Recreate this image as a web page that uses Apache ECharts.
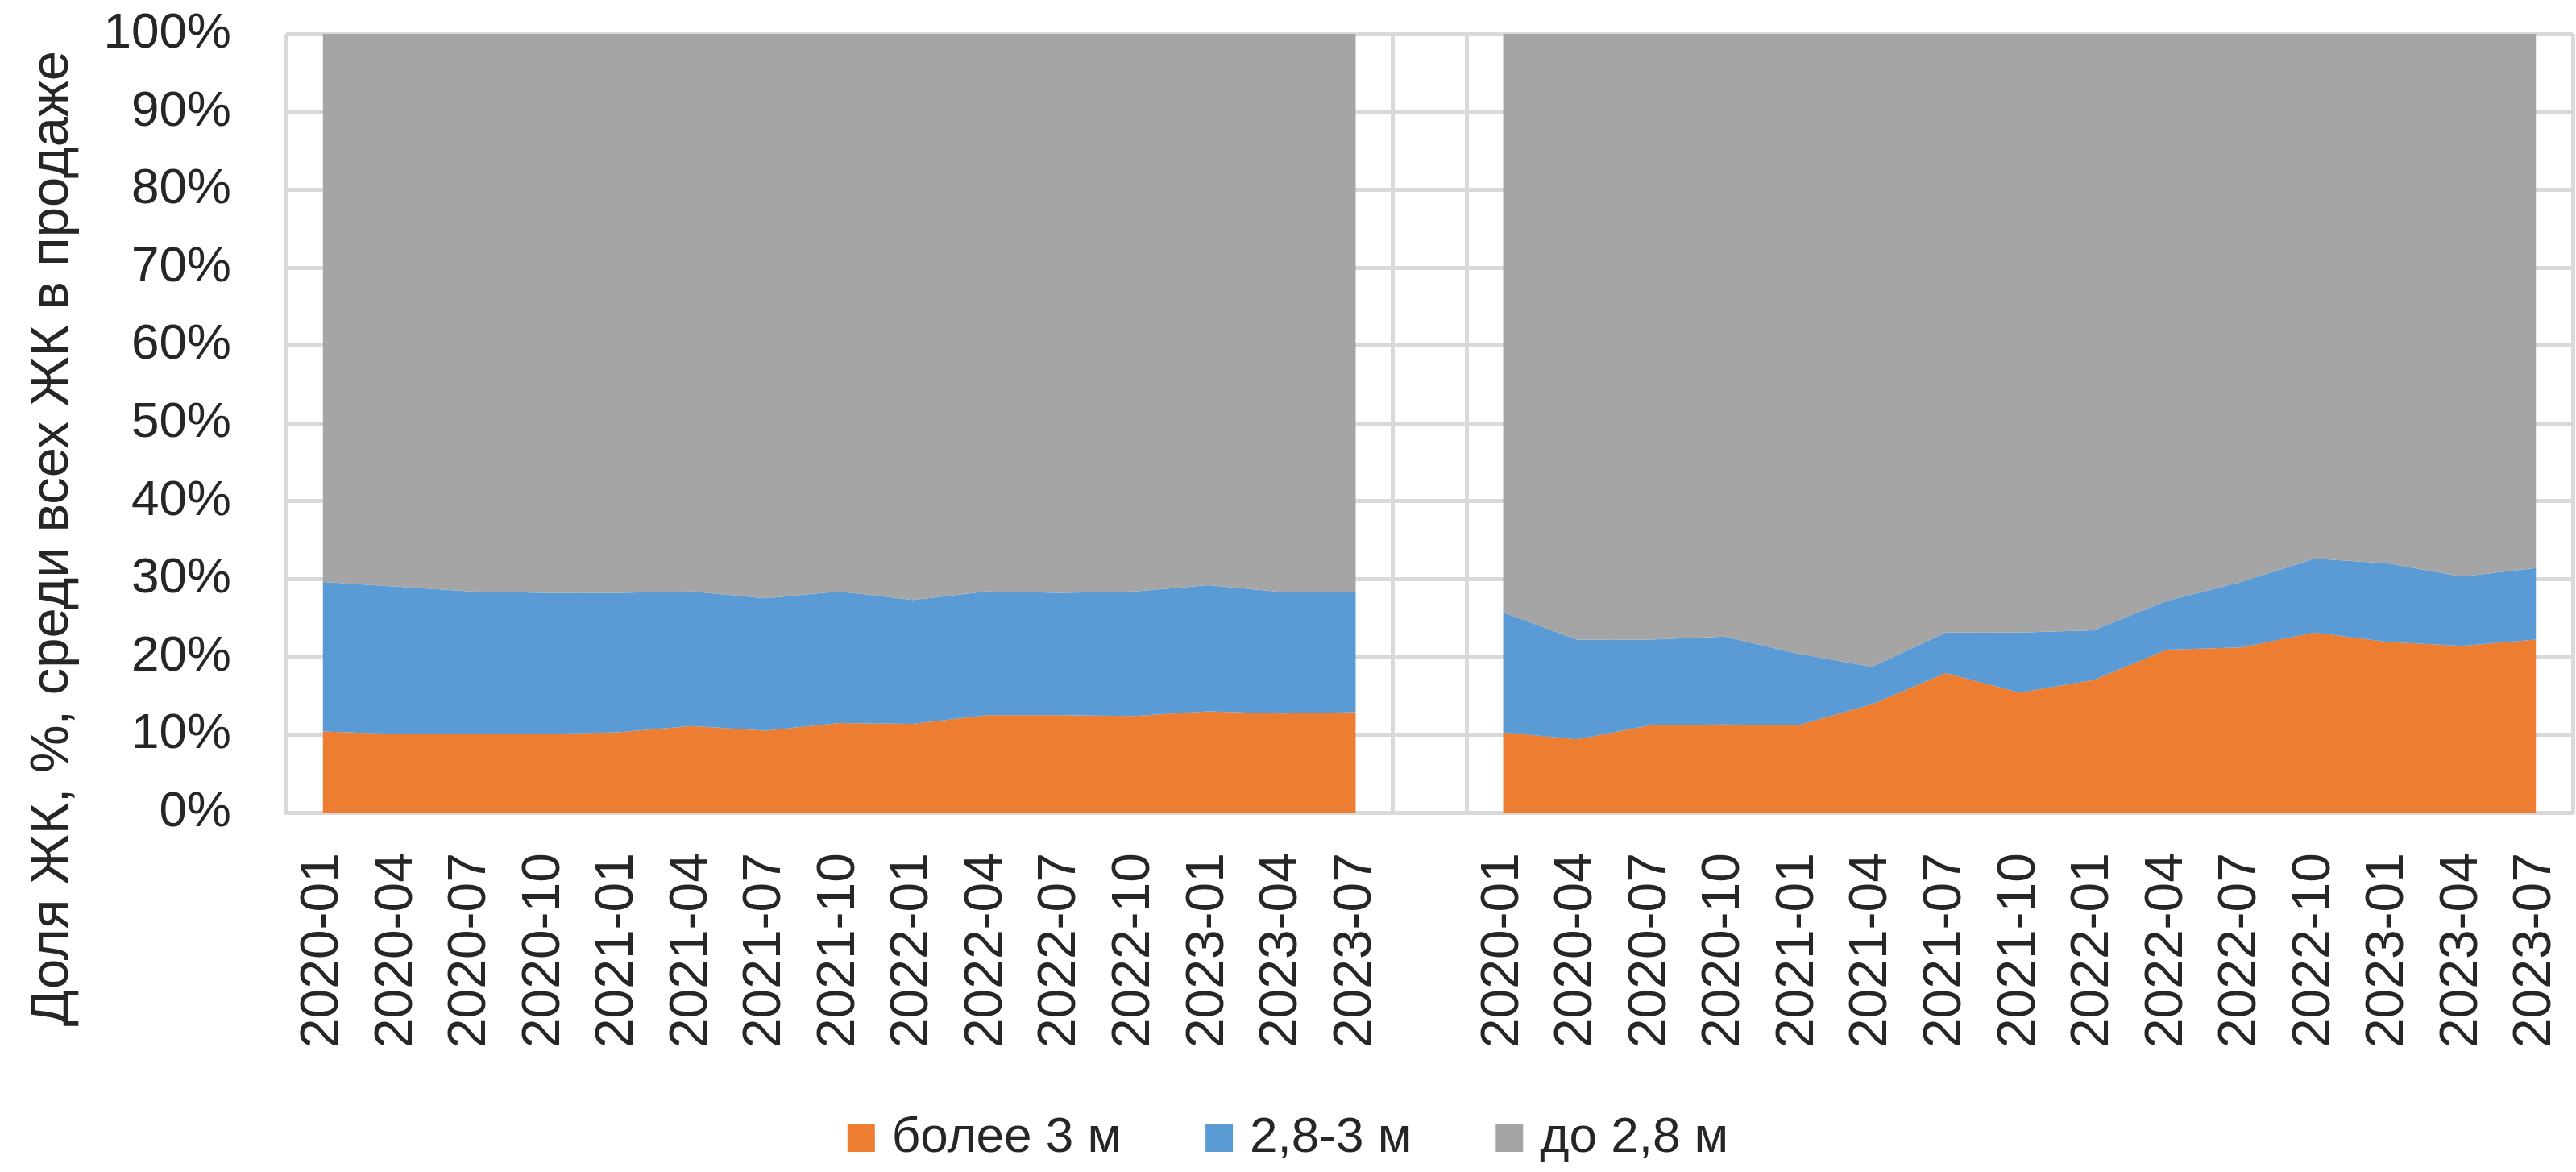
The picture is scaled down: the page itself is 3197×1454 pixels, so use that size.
<!DOCTYPE html>
<html>
<head>
<meta charset="utf-8">
<script src="https://cdn.jsdelivr.net/npm/echarts@6/dist/echarts.min.js"></script>
<style>
  html, body { margin: 0; padding: 0; background: #fff; }
  #chart { width: 3197px; height: 1454px; }
</style>
</head>
<body>
<div id="chart"></div>
<script>
// кварталы (две группы, между ними пустая категория)
const quarters = ['2020-01', '2020-04', '2020-07', '2020-10', '2021-01', '2021-04', '2021-07',
  '2021-10', '2022-01', '2022-04', '2022-07', '2022-10', '2023-01', '2023-04', '2023-07'];

// первая группа, доли в %
const over3A   = [10.4, 10.1, 10.1, 10.1, 10.3, 11.1, 10.5, 11.5, 11.4, 12.5, 12.5, 12.4, 13.0, 12.7, 12.9];
const mid28A   = [19.2, 18.9, 18.3, 18.1, 17.9, 17.3, 17.0, 16.9, 15.9, 15.9, 15.7, 16.0, 16.2, 15.6, 15.4];
const under28A = [70.4, 71.0, 71.6, 71.8, 71.8, 71.6, 72.5, 71.6, 72.7, 71.6, 71.8, 71.6, 70.8, 71.7, 71.7];

// вторая группа, доли в %
const over3B   = [10.3, 9.4, 11.2, 11.3, 11.2, 13.9, 17.9, 15.4, 17.0, 20.9, 21.2, 23.1, 21.9, 21.4, 22.2];
const mid28B   = [15.4, 12.8, 11.0, 11.3, 9.2, 4.8, 5.2, 7.7, 6.4, 6.3, 8.4, 9.5, 10.1, 8.9, 9.2];
const under28B = [74.3, 77.8, 77.8, 77.4, 79.6, 81.3, 76.9, 76.9, 76.6, 72.8, 70.4, 67.4, 68.0, 69.7, 68.6];

const categories = quarters.concat(['']).concat(quarters);
const join = (a, b) => a.concat([null]).concat(b);

const FONT = 'Liberation Sans';
const TXT = '#262626';
const GRID = '#d9d9d9';

const myChart = echarts.init(document.getElementById('chart'));

function areaSeries(name, data, color) {
    return {
        name: name,
        type: 'line',
        stack: 'total',
        data: data,
        symbol: 'none',
        connectNulls: false,
        lineStyle: { width: 0 },
        areaStyle: { color: color, opacity: 1 },
        itemStyle: { color: color },
        emphasis: { disabled: true }
    };
}

myChart.setOption({
    animation: false,
    grid: { left: 355, right: 4, top: 42, bottom: 446 },
    legend: {
        bottom: 6,
        left: 'center',
        icon: 'rect',
        itemWidth: 34,
        itemHeight: 34,
        itemGap: 104,
        textStyle: { fontFamily: FONT, fontSize: 62, color: TXT, padding: [0, 0, 0, 16] },
        data: ['более 3 м', '2,8-3 м', 'до 2,8 м']
    },
    graphic: [{
        type: 'text',
        x: 66,
        y: 668,
        rotation: Math.PI / 2,
        style: {
            text: 'Доля ЖК, %, среди всех ЖК в продаже',
            fontFamily: FONT,
            fontSize: 67,
            fill: TXT,
            align: 'center',
            verticalAlign: 'middle'
        }
    }],
    xAxis: {
        type: 'category',
        data: categories,
        boundaryGap: true,
        axisLine: { lineStyle: { color: GRID, width: 5 } },
        axisTick: { show: false },
        axisLabel: {
            interval: 0,
            rotate: 90,
            margin: 50,
            fontFamily: FONT,
            fontSize: 66,
            color: TXT
        },
        splitLine: { show: true, interval: 0, lineStyle: { color: GRID, width: 5 } }
    },
    yAxis: {
        type: 'value',
        min: 0,
        max: 100,
        interval: 10,
        axisLine: { show: false },
        axisTick: { show: false },
        axisLabel: {
            formatter: '{value}%',
            margin: 68,
            fontFamily: FONT,
            fontSize: 62,
            color: TXT
        },
        splitLine: { lineStyle: { color: GRID, width: 5 } }
    },
    series: [
        areaSeries('более 3 м', join(over3A, over3B), '#ED7D31'),
        areaSeries('2,8-3 м', join(mid28A, mid28B), '#5B9BD5'),
        areaSeries('до 2,8 м', join(under28A, under28B), '#A5A5A5')
    ]
});
</script>
</body>
</html>
